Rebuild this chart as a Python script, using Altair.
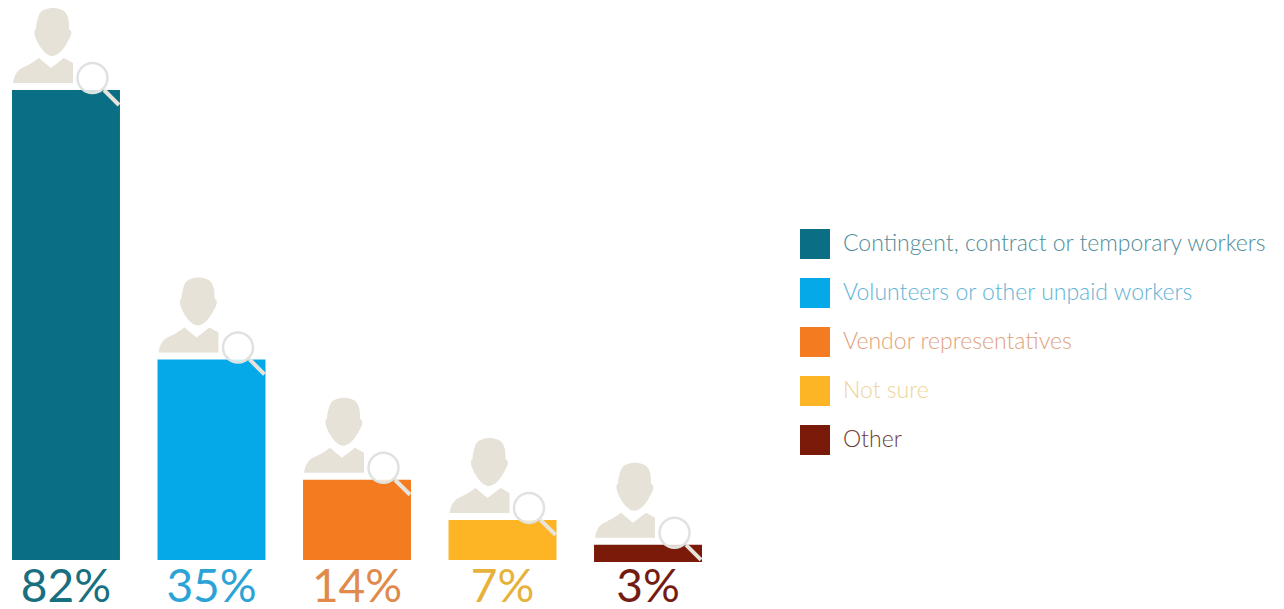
import altair as alt
import pandas as pd

categories = ["Contingent, contract or temporary workers", "Volunteers or other unpaid workers",
              "Vendor representatives", "Not sure", "Other"]
shares = [82, 35, 14, 7, 3]
bar_colors = ["#0a6f84", "#05a9e8", "#f47b20", "#fdb525", "#7a1a08"]
text_colors = ["#176f80", "#2ba3d6", "#e08a4c", "#e6b23c", "#751c10"]
legend_text_colors = ["#4f8d99", "#5fb4d6", "#e0a27c", "#ecd49a", "#6b3a34"]

df = pd.DataFrame({"category": categories, "share": shares, "color": text_colors})
df["label"] = df["share"].astype(str) + "%"

FONT = "Lato"
ICON = "#e6e2d8"

# The smallest column sits slightly below the shared baseline.
TOP_NUDGE = {"Other": 2}

# Icon outlines, in pixels relative to the top centre of each bar.
HEAD = ("M-13,-82 C-19,-82 -25,-80 -27,-75 C-29,-70 -30,-65 -30,-61 C-32,-60 -32,-57 -31,-54 "
        "C-30,-51 -29,-49 -28,-47 C-25,-41 -19,-34 -14,-34 C-8,-34 -2,-41 1,-47 "
        "C2,-49 4,-52 5,-55 C6,-58 5,-60 3,-61 C3,-66 3,-71 1,-75 C-1,-80 -7,-82 -13,-82 Z")
BODY = ("M-53,-7 C-52,-13 -50,-19 -44,-22 C-38,-25 -32,-28 -27,-32 L-15,-22 L-2,-32 "
        "L7,-27 L7,-7 Z")
LENS_FILL = "M11,-12 A15.5,15.5 0 1,1 42,-12 A15.5,15.5 0 1,1 11,-12 Z"
LENS_RIM = "M11.5,-12 A15,15 0 1,1 41.5,-12 A15,15 0 1,1 11.5,-12 Z"
HANDLE = "M38,0 L53,15"

x = alt.X("category:N", sort=categories, axis=None,
          scale=alt.Scale(paddingInner=0.258, paddingOuter=0))
y_scale = alt.Scale(domain=[0, 97.7], range=[560, 0])
y = alt.Y("share:Q", axis=None, scale=y_scale)
color = alt.Color("category:N", sort=categories,
                  scale=alt.Scale(domain=categories, range=bar_colors),
                  legend=alt.Legend(
                      title=None, orient="none", legendX=788, legendY=229,
                      symbolType="square", symbolSize=900, symbolStrokeWidth=0,
                      symbolOpacity=1, rowPadding=19, labelOffset=13,
                      labelFont=FONT, labelFontSize=23, labelFontWeight=300,
                      labelLimit=480,
                      labelColor=alt.expr(
                          "[" + ",".join(f"'{c}'" for c in legend_text_colors) + "]"
                          "[indexof(" + str(categories) + ", datum.value)]"),
                  ))

layers = []
for name in categories:
    top = TOP_NUDGE.get(name, 0)
    base = alt.Chart(df).transform_filter(f"datum.category == '{name}'").encode(x=x, y=y)
    bar = base.mark_bar(yOffset=top).encode(color=color)

    def icon(path, **style):
        return base.mark_point(shape=path, size=4, yOffset=top, **style)

    layers += [
        bar,
        icon(HEAD, filled=True, fill=ICON, strokeWidth=0, opacity=1),
        icon(BODY, filled=True, fill=ICON, strokeWidth=0, opacity=1),
        icon(LENS_FILL, filled=True, fill="#ffffff", strokeWidth=0, opacity=0.8),
        icon(LENS_RIM, filled=False, stroke="#dfe3e0", strokeWidth=2.5, opacity=1),
        icon(HANDLE, filled=False, stroke="#e8e4dc", strokeWidth=4, opacity=1),
    ]

labels = alt.Chart(df).mark_text(
    font=FONT, fontSize=46, fontWeight=400, baseline="middle", align="center", dy=28
).encode(
    x=x,
    y=alt.datum(0, scale=y_scale),
    text="label:N",
    color=alt.Color("color:N", scale=None, legend=None),
)

chart = alt.layer(*layers, labels).properties(
    width=690, height=560,
    padding={"left": 12, "top": 0, "right": 582, "bottom": 49},
    autosize=alt.AutoSizeParams(type="none"),
    background="#ffffff",
).configure_view(stroke=None)

chart.save("out.html", embed_options={"renderer": "svg", "actions": False})
